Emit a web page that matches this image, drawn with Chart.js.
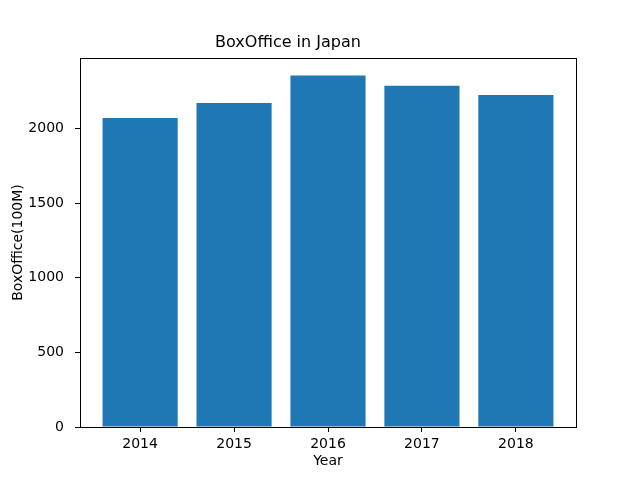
<!DOCTYPE html>
<html>
<head>
<meta charset="utf-8">
<script src="https://cdn.jsdelivr.net/npm/chart.js@4"></script>
<style>
html,body{margin:0;padding:0;background:#fff;}
#wrap{width:640px;height:480px;}
</style>
</head>
<body>
<div id="wrap"><canvas id="c" width="640" height="480"></canvas></div>
<script>
const years = ['2014', '2015', '2016', '2017', '2018'];
const boxOffice = [2070, 2171, 2355, 2286, 2225];
const yTicks = [0, 500, 1000, 1500, 2000];
const chartTitle = 'BoxOffice in Japan';
const xLabel = 'Year';
const yLabel = 'BoxOffice(100M)';

const FONT = "'DejaVu Sans', sans-serif";
const yMax = Math.max(...boxOffice) * 1.05;

const frame = {
  id: 'frame',
  afterDraw(chart) {
    const a = chart.chartArea, ctx = chart.ctx;
    ctx.save();
    ctx.strokeStyle = '#000';
    ctx.lineWidth = 1;
    ctx.strokeRect(Math.round(a.left) + 0.5, Math.round(a.top) + 0.5, Math.round(a.right - a.left), Math.round(a.bottom - a.top));
    ctx.restore();
  }
};

new Chart(document.getElementById('c'), {
  type: 'bar',
  data: {
    datasets: [{
      data: boxOffice.map((v, i) => ({x: i, y: v})),
      backgroundColor: '#1f77b4',
      borderWidth: 0,
      barPercentage: 1,
      categoryPercentage: 0.8
    }]
  },
  options: {
    responsive: false,
    animation: false,
    devicePixelRatio: 1,
    layout: {padding: {left: 0, right: 64, top: 0, bottom: 0}},
    plugins: {
      legend: {display: false},
      tooltip: {enabled: false},
      title: {
        display: true,
        text: chartTitle,
        color: '#000',
        font: {family: FONT, size: 16, weight: 'normal'},
        padding: {top: 33, bottom: 5.8}
      }
    },
    scales: {
      x: {
        type: 'linear',
        min: -0.64,
        max: 4.64,
        offset: false,
        afterBuildTicks: axis => { axis.ticks = years.map((_, i) => ({value: i})); },
        afterFit: axis => { axis.height = 53; },
        ticks: {
          color: '#000',
          font: {family: FONT, size: 14},
          padding: 4,
          maxRotation: 0,
          callback: v => years[v]
        },
        grid: {offset: false, drawOnChartArea: false, drawTicks: true, tickLength: 5, color: '#000'},
        border: {display: true, color: '#000'},
        title: {display: true, text: xLabel, color: '#000', font: {family: FONT, size: 14}, padding: {top: 10, bottom: 10}}
      },
      y: {
        min: 0,
        max: yMax,
        afterBuildTicks: axis => { axis.ticks = yTicks.map(v => ({value: v})); },
        afterFit: axis => { axis.width = 80; },
        ticks: {
          color: '#000',
          font: {family: FONT, size: 14},
          padding: 11,
          callback: v => String(v)
        },
        grid: {drawOnChartArea: false, drawTicks: true, tickLength: 5, color: '#000'},
        border: {display: true, color: '#000'},
        title: {display: true, text: yLabel, color: '#000', font: {family: FONT, size: 14}, padding: {top: 10, bottom: 10}}
      }
    }
  },
  plugins: [frame]
});
</script>
</body>
</html>
